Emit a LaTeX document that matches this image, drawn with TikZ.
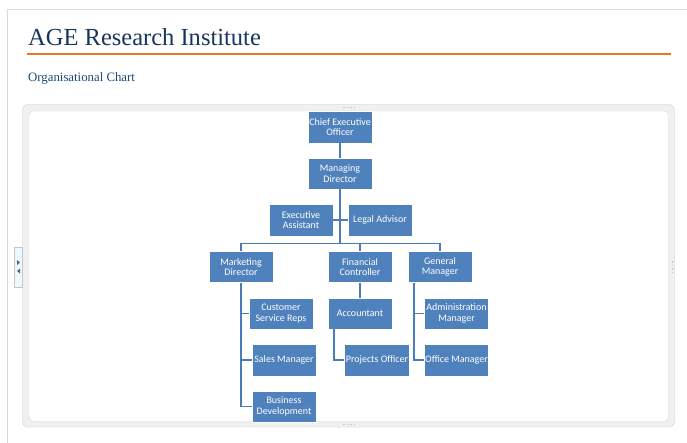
\documentclass[tikz,border=0pt]{standalone}
\usepackage{fontspec}
\setmainfont{Liberation Serif}
\newfontfamily\boxfont{Carlito}
\usetikzlibrary{arrows.meta, positioning, calc}
\definecolor{boxblue}{RGB}{79,129,189}
\definecolor{linkblue}{RGB}{74,124,186}
\definecolor{titleblue}{RGB}{23,54,93}
\definecolor{subblue}{RGB}{31,73,125}
\definecolor{ruleorange}{RGB}{228,120,40}
\tikzset{
  post/.style ={rectangle, draw=white, line width=0.6pt, fill=boxblue,
                minimum width=64pt, minimum height=31pt, inner sep=0pt,
                align=center, text=white,
                font=\boxfont\fontsize{10}{10.5}\selectfont},
  link/.style ={draw=linkblue, line width=1.7pt},
  grip/.style ={fill=gray!45, minimum size=1.6pt, inner sep=0pt}
}
\begin{document}
\begin{tikzpicture}[x=1pt, y=-1pt]
    \useasboundingbox (0,0) rectangle (687,443);
    \fill[white] (0,0) rectangle (687,443);
    \draw[gray!30, line width=0.8pt] (7,443) -- (7,9) -- (687,9);
    % heading
    \node[anchor=base west, inner sep=0pt, text=titleblue,
          font=\fontsize{24.5}{24.5}\selectfont] (title) at (28,46) {AGE Research Institute};
    \draw[ruleorange, line width=1.8pt] (27,54.3) -- (671,54.3);
    \node[anchor=base west, inner sep=0pt, text=subblue,
          font=\fontsize{12.8}{12.8}\selectfont] (sub) at (28,81.7) {Organisational Chart};
    % smartart frame
    \draw[gray!40, fill=gray!12, rounded corners=5pt] (22.5,104.5) rectangle (674.5,427);
    \draw[gray!35, fill=white, rounded corners=4pt] (29,111) rectangle (668.5,421.5);
    \foreach \g in {344,347.5,351,354.5} {
      \node[grip] at (\g,107.5) {};
      \node[grip] at (\g,424.5) {};
    }
    \foreach \g in {262,265.5,269,272.5}
      \node[grip] at (672.5,\g) {};
    \draw[gray!45, fill=cyan!7] (14,247) rectangle (22.5,287);
    \fill[boxblue!80!black] (17,260) -- (20,262.5) -- (17,265) -- cycle;
    \fill[boxblue!80!black] (20,268.5) -- (17,271) -- (20,273.5) -- cycle;
    % posts
    \node[post, minimum height=32pt] (ceo) at (340,127) {Chief Executive\\Officer};
    \node[post] (md) at (340,173.5) {Managing\\Director};
    \node[post, minimum height=32pt] (ea) at (301,220) {Executive\\Assistant};
    \node[post, minimum height=32pt] (legal) at (380,220) {Legal Advisor};
    \node[post] (mkt) at (241,267) {Marketing\\Director};
    \node[post] (fin) at (360,267) {Financial\\Controller};
    \node[post] (gen) at (440,267) {General\\Manager};
    \node[post] (csr) at (281,313.5) {Customer\\Service Reps};
    \node[post, minimum height=32pt] (sales) at (284,360) {Sales Manager};
    \node[post] (bizdev) at (284,406.5) {Business\\Development};
    \node[post] (acct) at (360,313.5) {Accountant};
    \node[post, minimum width=65pt, minimum height=32pt] (proj) at (377,360) {Projects Officer};
    \node[post] (admin) at (456.5,313.5) {Administration\\Manager};
    \node[post, minimum height=32pt] (office) at (456.5,360) {Office Manager};
    \coordinate (bus) at (0,243.5);
    % links
    \draw[link] (ceo) -- (md);
    \draw[link] (md.south) -- (md.south |- bus) -| (mkt.north);
    \draw[link] (md.south |- bus) -| (fin.north);
    \draw[link] (md.south |- bus) -| (gen.north);
    \draw[link] (ea.east) -- (legal.west);
    \draw[link] (mkt.south) |- (csr.west);
    \draw[link] (mkt.south) |- (sales.west);
    \draw[link] (mkt.south) |- (bizdev.west);
    \draw[link] (fin) -- (acct);
    \draw[link] ($(acct.south west)+(6.5,0)$) |- (proj.west);
    \draw[link] ($(gen.south west)+(6,0)$) |- (admin.west);
    \draw[link] ($(gen.south west)+(6,0)$) |- (office.west);
\end{tikzpicture}
\end{document}
